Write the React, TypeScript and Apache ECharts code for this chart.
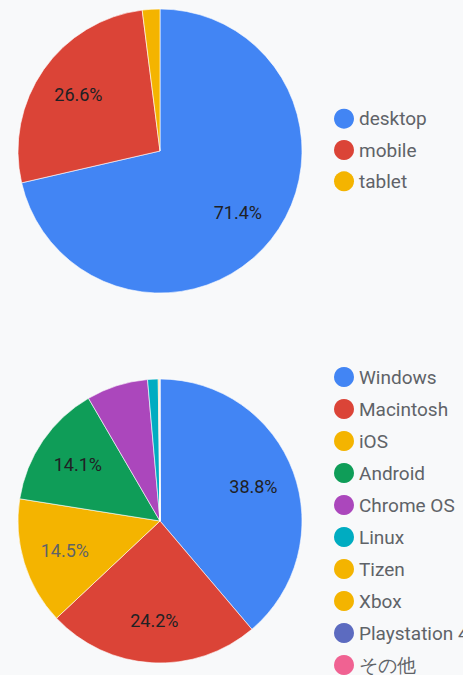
import React, { useEffect, useRef } from "react";
import * as echarts from "echarts";

const deviceNames = ["desktop", "mobile", "tablet"];
const deviceValues = [71.4, 26.6, 2.0];
const deviceColors = ["#4285F4", "#DB4437", "#F4B400"];

const osNames = ["Windows", "Macintosh", "iOS", "Android", "Chrome OS", "Linux", "Tizen", "Xbox", "Playstation 4", "その他"];
const osValues = [38.8, 24.2, 14.5, 14.1, 7.0, 1.2, 0.1, 0.05, 0.03, 0.02];
const osColors = ["#4285F4", "#DB4437", "#F4B400", "#0F9D58", "#AB47BC", "#00ACC1", "#F4B400", "#F4B400", "#5C6BC0", "#F06292"];

const LABEL_DARK = "#202124";
const LABEL_ON_YELLOW = "#5f6368";

const R = 142;

function mainSeries(names: string[], values: number[], colors: string[], cy: number) {
  return {
    type: "pie",
    center: [160, cy],
    radius: [0, R],
    startAngle: 90,
    clockwise: true,
    silent: true,
    label: { show: false },
    labelLine: { show: false },
    emphasis: { disabled: true },
    itemStyle: { borderColor: "#ffffff", borderWidth: 0.6 },
    data: names.map((n, i) => ({ name: n, value: values[i], itemStyle: { color: colors[i] } })),
  };
}

function labelSeries(names: string[], values: number[], colors: string[], cy: number) {
  return {
    type: "pie",
    center: [160, cy],
    radius: [Math.round(R * 0.36), R],
    startAngle: 90,
    clockwise: true,
    silent: true,
    labelLine: { show: false },
    emphasis: { disabled: true },
    itemStyle: { color: "transparent", borderWidth: 0 },
    label: {
      show: true,
      position: "inside",
      fontFamily: "Roboto",
      fontSize: 18,
      formatter: (p: any) => (p.value >= 10 ? p.value.toFixed(1) + "%" : ""),
    },
    data: names.map((n, i) => ({
      name: n,
      value: values[i],
      label: { color: colors[i] === "#F4B400" ? LABEL_ON_YELLOW : LABEL_DARK },
    })),
  };
}

function legend(names: string[], top: number, gap: number) {
  return {
    orient: "vertical",
    left: 334,
    top,
    padding: 0,
    icon: "circle",
    itemWidth: 20,
    itemHeight: 20,
    itemGap: gap,
    itemTextGap: 9,
    selectedMode: false,
    itemStyle: { borderWidth: 0 },
    data: names,
    textStyle: { fontFamily: "Roboto", fontSize: 19, lineHeight: 20, color: "#5f6368" },
  };
}

export default function App() {
  const ref = useRef<HTMLDivElement>(null);
  useEffect(() => {
    document.body.style.margin = "0";
    const chart = echarts.init(ref.current!, undefined, { renderer: "svg" });
    chart.setOption({
      animation: false,
      backgroundColor: "#f8f9fa",
      tooltip: { show: false },
      legend: [legend(deviceNames, 108.7, 11.3), legend(osNames, 367, 12)],
      series: [
        mainSeries(deviceNames, deviceValues, deviceColors, 151),
        mainSeries(osNames, osValues, osColors, 521),
        labelSeries(deviceNames, deviceValues, deviceColors, 151),
        labelSeries(osNames, osValues, osColors, 521),
      ],
    });
    return () => chart.dispose();
  }, []);
  return <div ref={ref} style={{ width: 463, height: 675 }} />;
}
